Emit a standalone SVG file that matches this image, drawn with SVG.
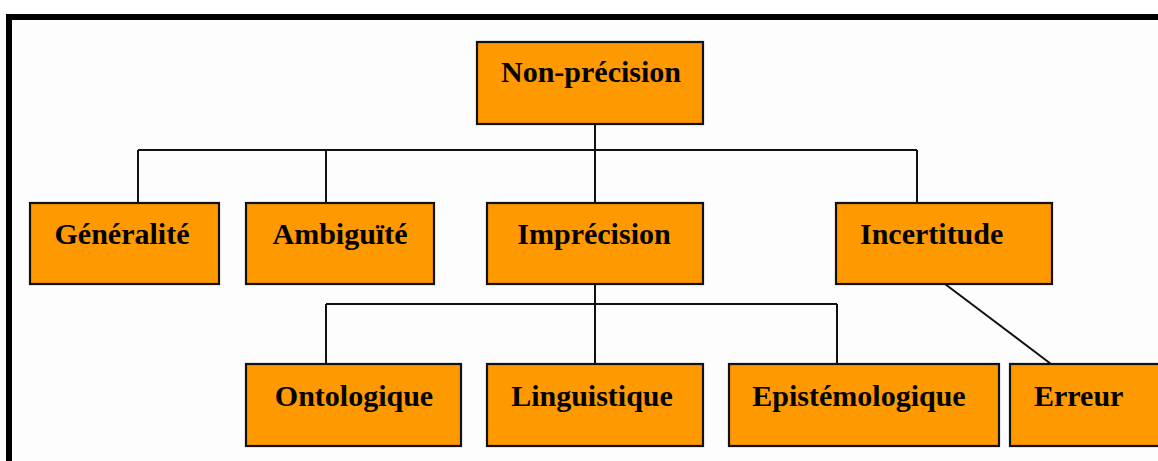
<svg xmlns="http://www.w3.org/2000/svg" width="1158" height="461" viewBox="0 0 1158 461">
  <style>
    .box { fill: #FF9900; stroke: #111; stroke-width: 2.2; }
    .lbl { font-family: "Liberation Serif", "Times New Roman", serif; font-weight: bold; font-size: 30px; fill: #000; }
    .mid { text-anchor: middle; }
    .conn { fill: none; stroke: #111; stroke-width: 2; }
  </style>
  <rect x="0" y="0" width="1158" height="461" fill="#ffffff"/>
  <rect x="12" y="20" width="1146" height="441" fill="#fdfdfd"/>
  <path d="M9,461 V17 H1158" fill="none" stroke="#000" stroke-width="6" stroke-linejoin="miter"/>

  <g id="connectors">
    <path class="conn" d="M595,124 V150 M138,150 H917 M138,150 V203 M326,150 V203 M595,150 V203 M917,150 V203"/>
    <path class="conn" d="M595,284 V304 M326,304 H837 M326,304 V364 M595,304 V364 M837,304 V364"/>
    <path class="conn" d="M945,284 L1051,364"/>
  </g>

  <g id="non-precision">
    <rect class="box" x="477" y="42" width="226" height="82"/>
    <text class="lbl mid" x="591" y="82">Non-précision</text>
  </g>
  <g id="generalite">
    <rect class="box" x="30" y="203" width="189" height="81"/>
    <text class="lbl mid" x="122" y="244">Généralité</text>
  </g>
  <g id="ambiguite">
    <rect class="box" x="246" y="203" width="188" height="81"/>
    <text class="lbl mid" x="340" y="244">Ambiguïté</text>
  </g>
  <g id="imprecision">
    <rect class="box" x="487" y="203" width="216" height="81"/>
    <text class="lbl mid" x="594" y="244">Imprécision</text>
  </g>
  <g id="incertitude">
    <rect class="box" x="836" y="203" width="216" height="81"/>
    <text class="lbl" x="860" y="244">Incertitude</text>
  </g>
  <g id="ontologique">
    <rect class="box" x="246" y="364" width="215" height="82"/>
    <text class="lbl mid" x="354" y="406">Ontologique</text>
  </g>
  <g id="linguistique">
    <rect class="box" x="487" y="364" width="216" height="82"/>
    <text class="lbl mid" x="592" y="406">Linguistique</text>
  </g>
  <g id="epistemologique">
    <rect class="box" x="729" y="364" width="270" height="82"/>
    <text class="lbl mid" x="859" y="406">Epistémologique</text>
  </g>
  <g id="erreur">
    <rect class="box" x="1010" y="364" width="160" height="82"/>
    <text class="lbl" x="1034" y="406">Erreur</text>
  </g>
</svg>
